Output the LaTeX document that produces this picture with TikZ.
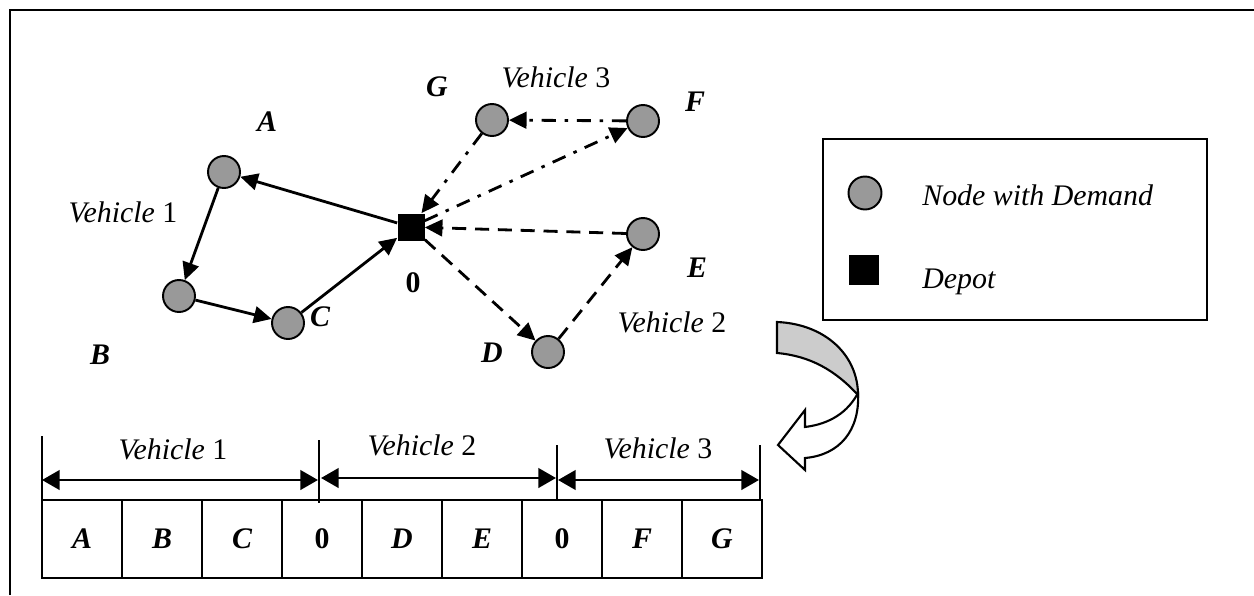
\documentclass[tikz,border=0pt]{standalone}
\usepackage{fontspec}
\setmainfont{Liberation Serif}
\usetikzlibrary{arrows.meta}
\begin{document}
\begin{tikzpicture}[x=0.02cm,y=-0.02cm,
  cust/.style={circle,draw=black,line width=1.1pt,fill=black!40,minimum size=0.64cm,inner sep=0pt},
  depot/.style={rectangle,fill=black,minimum size=0.54cm,inner sep=0pt},
  lbl/.style={font=\fontsize{17}{20}\selectfont\bfseries\itshape,inner sep=0pt},
  zlbl/.style={font=\fontsize{17}{20}\selectfont\bfseries,inner sep=0pt},
  vlbl/.style={font=\fontsize{17}{20}\selectfont,inner sep=0pt},
  route/.style={line width=1.6pt,-{Triangle[length=10pt,width=9.5pt]}},
  routedash/.style={route,dash pattern=on 8pt off 5pt},
  routedot/.style={route,dash pattern=on 8pt off 5pt on 2pt off 5pt},
  cell/.style={rectangle,draw=black,line width=1.1pt,minimum width=1.6cm,minimum height=1.56cm,inner sep=0pt,font=\fontsize{17}{20}\selectfont},
  tick/.style={line width=1.1pt},
  span/.style={line width=1.7pt,{Triangle[length=10pt,width=11pt]}-{Triangle[length=10pt,width=11pt]}}
]
\useasboundingbox (0,0) rectangle (1254,595);
% frame
\coordinate (fa) at (10,595);
\coordinate (fb) at (10,10);
\coordinate (fc) at (1254,10);
\draw[line width=1.1pt] (fa) -- (fb) -- (fc);

% graph nodes
\node[cust] (A) at (224,172) {};
\node[cust] (B) at (179,296) {};
\node[cust] (C) at (288,323) {};
\node[depot] (O) at (411,227) {};
\node[cust] (G) at (492,120) {};
\node[cust] (F) at (643,121) {};
\node[cust] (E) at (643,234) {};
\node[cust] (D) at (548,352) {};

% routes
\draw[route] (O) -- (A);
\draw[route] (A) -- (B);
\draw[route] (B) -- (C);
\draw[route] (C) -- (O);
\draw[routedash] (O) -- (D);
\draw[routedash] (D) -- (E);
\draw[routedash] (E) -- (O);
\draw[routedot] (O) -- (F);
\draw[routedot] (F) -- (G);
\draw[routedot] (G) -- (O);

% labels
\node[lbl] (lA) at (267,122) {A};
\node[lbl] (lB) at (100,355) {B};
\node[lbl] (lC) at (320,317) {C};
\node[zlbl] (l0) at (413,283) {0};
\node[lbl] (lG) at (437,87) {G};
\node[lbl] (lF) at (695,102) {F};
\node[lbl] (lE) at (697,268) {E};
\node[lbl] (lD) at (492,353) {D};
\node[vlbl] (v1) at (123,212) {\itshape Vehicle\/\upshape{} 1};
\node[vlbl] (v3) at (556,77) {\itshape Vehicle\/\upshape{} 3};
\node[vlbl] (v2) at (672,322) {\itshape Vehicle\/\upshape{} 2};

% legend
\node[draw=black,line width=1.2pt,minimum width=7.68cm,minimum height=3.62cm,inner sep=0pt] (leg) at (1015,229.5) {};
\node[cust,minimum size=0.66cm] (legc) at (865,193) {};
\node[depot,minimum size=0.6cm] (legs) at (864,270) {};
\node[vlbl,anchor=base west] (legct) at (922,205) {\itshape Node with Demand};
\node[vlbl,anchor=base west] (legst) at (922,288) {\itshape Depot};

% curved arrow
\draw[line width=1.2pt,fill=black!20] (777,322) .. controls (825,324) and (858,355) .. (858,395)
  .. controls (835,370) and (810,356) .. (777,353) -- cycle;
\draw[line width=1.2pt,fill=white] (858,393) .. controls (848,412) and (830,424) .. (805,427)
  -- (805,410) -- (778,445) -- (805,470) -- (805,458)
  .. controls (840,455) and (860,430) .. (858,393) -- cycle;

% chromosome cells
\node[cell] (c1) at (82,539) {\bfseries\itshape A};
\node[cell] (c2) at (162,539) {\bfseries\itshape B};
\node[cell] (c3) at (242,539) {\bfseries\itshape C};
\node[cell] (c4) at (322,539) {\bfseries 0};
\node[cell] (c5) at (402,539) {\bfseries\itshape D};
\node[cell] (c6) at (482,539) {\bfseries\itshape E};
\node[cell] (c7) at (562,539) {\bfseries 0};
\node[cell] (c8) at (642,539) {\bfseries\itshape F};
\node[cell] (c9) at (722,539) {\bfseries\itshape G};

% brackets
\coordinate (t1a) at (42,436);  \coordinate (t1b) at (42,500);
\coordinate (t2a) at (319,440); \coordinate (t2b) at (319,503);
\coordinate (t3a) at (557,445); \coordinate (t3b) at (557,500);
\coordinate (t4a) at (760,445); \coordinate (t4b) at (760,500);
\draw[tick] (t1a) -- (t1b);
\draw[tick] (t2a) -- (t2b);
\draw[tick] (t3a) -- (t3b);
\draw[tick] (t4a) -- (t4b);
\coordinate (s1a) at (42,480);  \coordinate (s1b) at (318,480);
\coordinate (s2a) at (321,478); \coordinate (s2b) at (556,478);
\coordinate (s3a) at (558,480); \coordinate (s3b) at (759,480);
\draw[span] (s1a) -- (s1b);
\draw[span] (s2a) -- (s2b);
\draw[span] (s3a) -- (s3b);
\node[vlbl] (w1) at (173,449) {\itshape Vehicle\/\upshape{} 1};
\node[vlbl] (w2) at (422,445) {\itshape Vehicle\/\upshape{} 2};
\node[vlbl] (w3) at (658,448) {\itshape Vehicle\/\upshape{} 3};
\end{tikzpicture}
\end{document}
